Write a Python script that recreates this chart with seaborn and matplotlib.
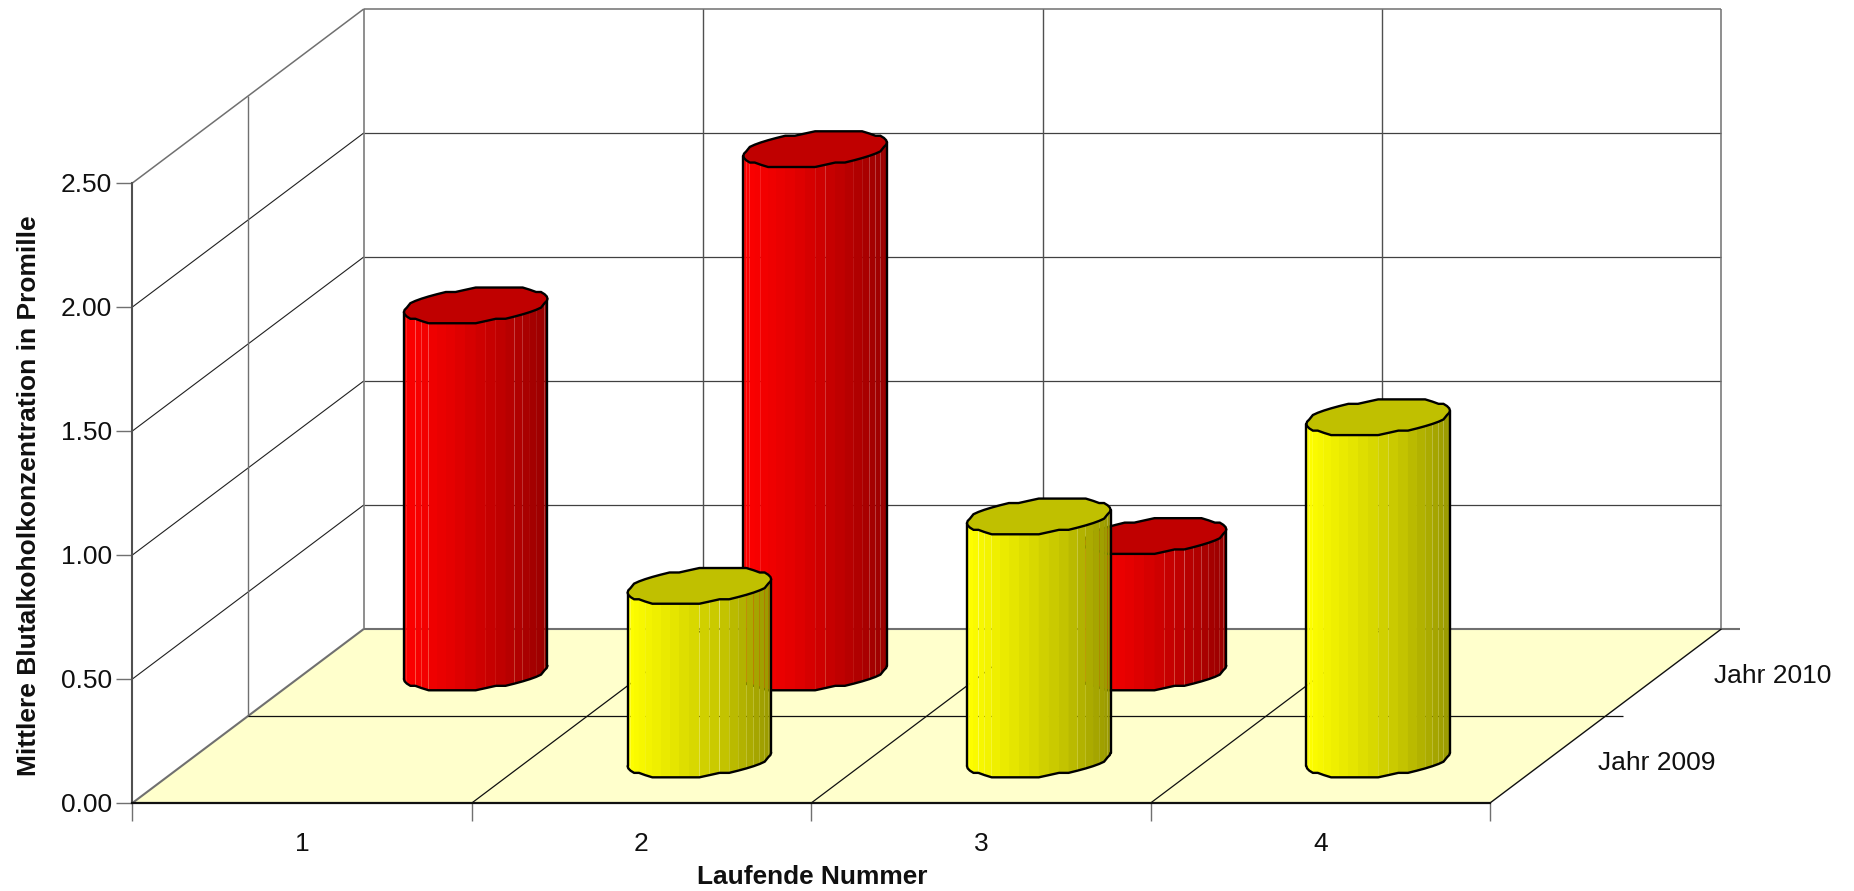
import numpy as np
import pandas as pd
import seaborn as sns
import matplotlib.pyplot as plt

## Data
categories = ["1", "2", "3", "4"]
series_names = ["Jahr 2009", "Jahr 2010"]
values_2010 = [1.48, 2.11, 0.55, np.nan]
values_2009 = [np.nan, 0.70, 0.98, 1.38]
y_ticks = [0.0, 0.5, 1.0, 1.5, 2.0, 2.5]

table = pd.DataFrame({"cat": categories, "Jahr 2009": values_2009, "Jahr 2010": values_2010})
table = table.melt(id_vars="cat", var_name="series", value_name="value").dropna()

## Oblique projection, depth 0..1 is shifted by this many data units
DX = 0.682
DY = 0.702
depth_of = {"Jahr 2009": 0.25, "Jahr 2010": 0.75}
# cylinder shape in data units
HALF_W = 0.2115
TILT = 0.025
HALF_H = 0.068
N_FACETS = 44

colors = {
    "Jahr 2010": {"side": ["#ff0000", "#e40000", "#c00000", "#980000"], "top": "#c00000"},
    "Jahr 2009": {"side": ["#ffff00", "#e4e400", "#c4c400", "#989800"], "top": "#c0c000"},
}

sns.set_theme(style="ticks")
plt.rcParams["font.family"] = ["Liberation Sans", "DejaVu Sans"]

fig = plt.figure(figsize=(18.54, 8.91), dpi=100)
ax = fig.add_axes([132.4 / 1854, 88 / 891, 1357.6 / 1854, 620 / 891])
ax.set_xlim(0, 4)
ax.set_ylim(0, 2.5)
sns.despine(ax=ax)
ax.patch.set_alpha(0)


def proj(x, value, depth):
    return x + DX * depth, value + DY * depth


def grid_line(p0, p1, color="#202020", lw=0.8, z=2):
    ax.plot([proj(*p0)[0], proj(*p1)[0]], [proj(*p0)[1], proj(*p1)[1]],
            color=color, lw=lw, clip_on=False, zorder=z, solid_capstyle="butt")


## Floor
floor = [proj(0, 0, 0), proj(4, 0, 0), proj(4, 0, 1), proj(0, 0, 1)]
ax.fill([p[0] for p in floor], [p[1] for p in floor], color="#ffffcc", lw=0, clip_on=False, zorder=1)

## Walls and grid
frame = "#707070"
for v in y_ticks[1:-1]:
    grid_line((0, v, 0), (0, v, 1))
    grid_line((0, v, 1), (4, v, 1), color="#404040", lw=0.9)
grid_line((0, 2.5, 0), (0, 2.5, 1), color=frame, lw=1.1)
grid_line((0, 2.5, 1), (4, 2.5, 1), color=frame, lw=1.1)
grid_line((0, 0, 0), (0, 0, 1), color=frame, lw=1.5)
grid_line((0, 0, 1), (4.054, 0, 1), color=frame, lw=1.5)
grid_line((0, 0, 1), (0, 2.5, 1), color=frame, lw=1.1)
grid_line((4, 0, 1), (4, 2.5, 1), color=frame, lw=1.1)
grid_line((0, 0, 0.5), (0, 2.5, 0.5), color=frame, lw=1.0)
grid_line((0, 0, 0.5), (4.05, 0, 0.5), color="#101010", lw=0.9)
for x in [1, 2, 3]:
    grid_line((x, 0, 0), (x, 0, 1), color="#101010", lw=0.9)
    grid_line((x, 0, 1), (x, 2.5, 1), color="#505050", lw=1.0)
grid_line((4, 0, 0), (4, 0, 1), color="#101010", lw=1.0)


def cylinder(cat_idx, depth, value, side_colors, top_color, z):
    cx, base = proj(cat_idx + 0.5, 0, depth)
    t = np.linspace(0, 2 * np.pi, N_FACETS + 1)
    ex = HALF_W * np.cos(t)
    ey = TILT * np.cos(t) + HALF_H * np.sin(t)
    # coarse rounding gives the slightly bumpy outline of the original export
    ey = np.round(ey / 0.009) * 0.009
    ex[-1], ey[-1] = ex[0], ey[0]
    front = np.arange(N_FACETS // 2, N_FACETS + 1)  # from left point round the front to right
    ramp = sns.blend_palette(side_colors, 200)
    for a, b in zip(front[:-1], front[1:]):
        pos = ((ex[a] + ex[b]) / 2 + HALF_W) / (2 * HALF_W)
        col = ramp[int(np.clip(pos, 0, 0.999) * 200)]
        ax.fill([cx + ex[a], cx + ex[b], cx + ex[b], cx + ex[a]],
                [base + ey[a], base + ey[b], base + value + ey[b], base + value + ey[a]],
                color=col, lw=0, clip_on=False, zorder=z)
    # outline of side
    ax.plot(cx + ex[front], base + ey[front], color="black", lw=1.7, clip_on=False, zorder=z + 0.1)
    for i in [front[0], front[-1]]:
        ax.plot([cx + ex[i], cx + ex[i]], [base + ey[i], base + value + ey[i]],
                color="black", lw=1.7, clip_on=False, zorder=z + 0.1)
    # top
    ax.fill(cx + ex, base + value + ey, facecolor=top_color, edgecolor="black", lw=1.7,
            clip_on=False, zorder=z + 0.2)


z = 3
for name in ["Jahr 2010", "Jahr 2009"]:
    rows = table[table["series"] == name]
    for _, row in rows.iterrows():
        cylinder(categories.index(row["cat"]), depth_of[name], row["value"],
                 colors[name]["side"], colors[name]["top"], z)
        z += 1

## Axes
ax.spines["left"].set_color("#505050")
ax.spines["left"].set_linewidth(1.5)
ax.spines["bottom"].set_color("#101010")
ax.spines["bottom"].set_linewidth(1.6)
ax.spines["left"].set_zorder(2)
ax.spines["bottom"].set_zorder(20)
ax.set_yticks(y_ticks)
ax.set_yticklabels(["%.2f" % v for v in y_ticks], fontsize=19, color="#101010")
ax.tick_params(axis="y", length=11.5, width=1.0, color=frame, pad=3)
ax.set_xticks([0, 1, 2, 3, 4])
ax.set_xticklabels([])
ax.tick_params(axis="x", which="major", length=13, width=1.0, color=frame)
ax.set_xticks([0.5, 1.5, 2.5, 3.5], minor=True)
ax.set_xticklabels(categories, minor=True, fontsize=19, color="#101010")
ax.tick_params(axis="x", which="minor", length=0, pad=21)

ax.set_xlabel("Laufende Nummer", fontsize=18.9, fontweight="bold", color="#101010", va="center")
ax.xaxis.set_label_coords(0.5006, -74 / 620)
ax.set_ylabel("Mittlere Blutalkoholkonzentration in Promille", fontsize=19,
              fontweight="bold", color="#101010", va="center")
ax.yaxis.set_label_coords(-103 / 1357.6, 307 / 620)

for name in series_names:
    ax.annotate(name, proj(4, 0, depth_of[name]), xytext=(36, -2.5), textcoords="offset points",
                fontsize=19, color="#101010", va="center", ha="left", annotation_clip=False)

plt.savefig("out.png", dpi=100)
plt.close()
